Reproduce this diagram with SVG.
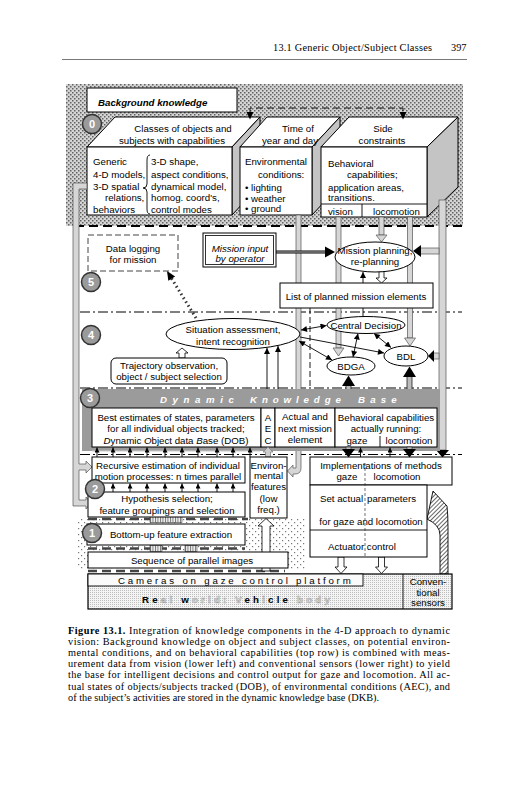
<svg xmlns="http://www.w3.org/2000/svg" width="527" height="800" viewBox="0 0 527 800">
<defs>
<pattern id="stip" width="4" height="4" patternUnits="userSpaceOnUse"><rect width="4" height="4" fill="#d4d4d4"/><rect x="0" y="0" width="1.5" height="1.5" fill="#626262"/><rect x="2" y="2" width="1.5" height="1.5" fill="#626262"/></pattern>
<pattern id="stip2" width="6" height="6" patternUnits="userSpaceOnUse"><rect width="6" height="6" fill="#fff"/><rect x="0" y="0" width="1.2" height="1.2" fill="#777"/><rect x="3" y="3" width="1.2" height="1.2" fill="#777"/></pattern>
<pattern id="fine" width="2" height="2" patternUnits="userSpaceOnUse"><rect width="2" height="2" fill="#f4f4f4"/><rect width="1" height="1" fill="#bdbdbd"/></pattern>
<pattern id="hatch" width="3" height="3" patternUnits="userSpaceOnUse" patternTransform="rotate(45)"><rect width="3" height="3" fill="#fff"/><line x1="0.5" y1="0" x2="0.5" y2="3" stroke="#555" stroke-width="0.9"/></pattern>
<pattern id="vh" width="2.5" height="4" patternUnits="userSpaceOnUse"><rect width="2.5" height="4" fill="#eee"/><line x1="0.5" y1="0" x2="0.5" y2="4" stroke="#555" stroke-width="0.8"/></pattern>
<marker id="ar" viewBox="0 0 10 10" refX="10" refY="5" markerWidth="7" markerHeight="6" markerUnits="userSpaceOnUse" orient="auto-start-reverse"><path d="M0,0L10,5L0,10z" fill="#000"/></marker>
<marker id="as" viewBox="0 0 10 10" refX="10" refY="5" markerWidth="6" markerHeight="5" markerUnits="userSpaceOnUse" orient="auto"><path d="M0,0L10,5L0,10z" fill="#000"/></marker>
</defs>
<style>
text{font-family:"Liberation Sans",Arial,sans-serif;font-size:9.7px;fill:#000}
.c{text-anchor:middle}
.box{fill:#fff;stroke:#000;stroke-width:1}
.side{fill:#c4c4c4;stroke:#000;stroke-width:1}
.bar{fill:#d6d6d6;stroke:#555;stroke-width:0.7}
.ha{fill:#fff;stroke:#000;stroke-width:0.8}
.ln{stroke:#000;stroke-width:0.9;fill:none}
.dd{stroke:#000;stroke-width:1;stroke-dasharray:10 3 2 3;fill:none}
.cap{font-family:"Liberation Serif","Times New Roman",serif;font-size:10.3px}
.num{font-weight:bold;font-size:11px;fill:#fff;text-anchor:middle}
.circ{fill:#9a9a9a;stroke:#333;stroke-width:1.5}
.lt{fill:#e2e2e2;stroke:#9a9a9a;stroke-width:0.5}
</style>
<rect width="527" height="800" fill="#fff"/>

<g id="header">
<text class="cap" x="273" y="51" font-size="10.8" textLength="159">13.1  Generic Object/Subject Classes</text>
<text class="cap" x="451" y="51" font-size="10.8">397</text>
<line x1="62" y1="59.5" x2="467" y2="59.5" stroke="#555" stroke-width="0.8"/>
</g>

<g id="backgrounds">
<rect x="66" y="84" width="397" height="142" fill="url(#stip)"/>
<rect x="77" y="518" width="228" height="52" fill="url(#stip2)"/>
</g>

<g id="background-knowledge">
<rect class="box" x="87" y="88" width="150" height="24" stroke-width="1.2"/>
<text x="98" y="105.5" font-size="12" font-weight="bold" font-style="italic">Background knowledge</text>
</g>

<g id="box-classes">
<polygon class="box" points="87,147 115,117 260,117 232,147"/>
<polygon class="side" points="232,147 260,117 260,185 232,215"/>
<rect class="box" x="87" y="147" width="145" height="68"/>
<text class="c" x="183" y="131.5">Classes of objects and</text>
<text class="c" x="172" y="143.5">subjects with capabilities</text>
<text x="93" y="165">Generic</text>
<text x="93" y="177.5">4-D models,</text>
<text x="93" y="189.5">3-D spatial</text>
<text x="105" y="201">relations,</text>
<text x="93" y="212.5">behaviors</text>
<path class="ln" stroke-width="0.8" d="M150,155 Q147,155 147,160 L147,184 Q147,188 143,188 Q147,188 147,192 L147,209 Q147,214 150,214"/>
<text x="151" y="165">3-D shape,</text>
<text x="151" y="177.5">aspect conditions,</text>
<text x="151" y="189.5">dynamical model,</text>
<text x="151" y="201">homog. coord's,</text>
<text x="151" y="212.5">control modes</text>
</g>

<g id="box-time">
<polygon class="box" points="240,147 267,117 340,117 312,147"/>
<polygon class="side" points="312,147 340,117 340,185 312,215"/>
<rect class="box" x="240" y="147" width="72" height="68"/>
<text class="c" x="298" y="131.5">Time of</text>
<text class="c" x="290" y="143.5">year and day</text>
<text x="245" y="165">Environmental</text>
<text x="258" y="178">conditions:</text>
<text x="245" y="191">• lighting</text>
<text x="245" y="202">• weather</text>
<text x="245" y="212">• ground</text>
</g>

<g id="box-side">
<polygon class="box" points="321,147 349,117 458,117 427,147"/>
<polygon class="side" points="427,147 458,117 458,187 427,217"/>
<rect class="box" x="321" y="147" width="106" height="70"/>
<text class="c" x="383" y="131.5">Side</text>
<text class="c" x="382" y="143.5">constraints</text>
<text x="328" y="167">Behavioral</text>
<text x="347" y="177.5">capabilities;</text>
<text x="328" y="190.5">application areas,</text>
<text x="328" y="201">transitions.</text>
<line class="ln" x1="321" y1="204" x2="427" y2="204"/>
<line class="ln" x1="362" y1="204" x2="362" y2="217"/>
<text x="328" y="214.5">vision</text>
<text x="373" y="214.5">locomotion</text>
</g>

<g id="connectors">
<path class="ln" stroke-width="1.3" stroke-dasharray="7 4" d="M250,113 L250,108 L403,108 L403,113"/>
<polygon points="246.5,112 253.5,112 250,119.5"/>
<polygon points="399.5,112 406.5,112 403,119.5"/>
<line x1="75" y1="226" x2="462" y2="226" stroke="#000" stroke-width="2" stroke-dasharray="9 5"/>
<line class="dd" x1="80" y1="312" x2="462" y2="312"/>
<line class="dd" x1="80" y1="388" x2="462" y2="388"/>
<line class="dd" x1="80" y1="454.5" x2="462" y2="454.5"/>
<path class="bar" d="M87,183 L73,183 L73,506 L86,506 L86,509 L91,503 L86,497 L86,500 L79,500 L79,470 L86,470 L86,473 L92,467 L86,461 L86,464 L79,464 L79,189 L87,189 Z"/>
<rect class="bar" x="439" y="200" width="7" height="250"/>
<polygon points="436,450 449,450 442.5,457.5"/>
<rect class="bar" x="419" y="248" width="20" height="6"/>
<polygon points="421,245 421,257 413,251"/>
<rect class="bar" x="432" y="353" width="7" height="6"/>
<polygon points="434,350 434,362 428,356"/>
<path class="bar" d="M296,215 L301,215 L301,468 Q301,474 295,474 L293,474 L293,477 L287.5,471 L293,465 L293,468 L296,468 Z"/>
<rect class="bar" x="336" y="217" width="5" height="131"/>
<polygon class="bar" points="333,348 344,348 338.5,356"/>
<rect class="bar" x="379" y="217" width="5" height="18"/>
<polygon class="bar" points="376,235 387,235 381.5,242"/>
<rect class="bar" x="407.5" y="217" width="5" height="121"/>
<polygon class="bar" points="404.5,338 415.5,338 410,346"/>
<line x1="276" y1="252" x2="327" y2="252" stroke="#000" stroke-width="3"/>
<line x1="276" y1="252" x2="327" y2="252" stroke="#fff" stroke-width="0.8"/>
<polygon points="325,246.5 325,257.5 335,252"/>
<line class="ln" x1="363" y1="317" x2="363" y2="272" marker-end="url(#ar)"/>
<polygon class="ha" points="379,271 379,278 376,278 381.5,283 387,278 384,278 384,271"/>
<line x1="196" y1="318" x2="170" y2="276" stroke="#333" stroke-width="3" stroke-dasharray="1.5 3"/>
<polygon points="167,271 175.1,276.6 168.3,280.8"/>
<line class="ln" x1="310" y1="308" x2="310" y2="407" stroke-dasharray="6 3" stroke-width="1.1" marker-end="url(#ar)"/>
<line class="ln" x1="301" y1="330" x2="326.5" y2="325.5" marker-start="url(#ar)" marker-end="url(#ar)"/>
<line class="ln" x1="300" y1="337" x2="384" y2="353" marker-end="url(#ar)"/>
<line class="ln" x1="299" y1="341" x2="332" y2="360" marker-start="url(#ar)" marker-end="url(#ar)"/>
<line class="ln" x1="358" y1="333.5" x2="353" y2="357" marker-start="url(#ar)" marker-end="url(#ar)"/>
<line class="ln" x1="374" y1="333.5" x2="391" y2="347.5" marker-start="url(#ar)" marker-end="url(#ar)"/>
<line class="ln" x1="267" y1="408" x2="267" y2="348" marker-end="url(#ar)"/>
<line class="ln" x1="278" y1="408" x2="278" y2="346" marker-end="url(#ar)"/>
<polygon class="ha" points="179,358 179,353 176,353 182,348 188,353 185,353 185,358"/>
<rect x="346" y="385" width="5" height="23" fill="#bbb" stroke="#222" stroke-width="0.8"/>
<polygon points="342,386 355,386 348.5,375.5"/>
<rect x="407" y="376" width="5" height="32" fill="#bbb" stroke="#222" stroke-width="0.8"/>
<polygon points="403,377 416,377 409.5,366.5"/>
</g>

<g id="node-data-logging">
<rect x="88" y="235" width="90" height="36" fill="#fff" stroke="#444" stroke-width="1" stroke-dasharray="6 3"/>
<text class="c" x="133" y="252">Data logging</text>
<text class="c" x="133" y="262.5">for mission</text>
</g>
<g id="node-mission-input">
<rect class="box" x="203" y="233" width="73" height="34" stroke-width="1.2"/>
<rect x="205.5" y="235.5" width="68" height="29" fill="none" stroke="#000" stroke-width="0.8"/>
<text class="c" x="240" y="251.5" font-style="italic">Mission input</text>
<text class="c" x="240" y="262" font-style="italic">by operator</text>
</g>
<g id="node-mission-planning">
<ellipse class="box" cx="375" cy="257" rx="40" ry="15"/>
<text class="c" x="375" y="253.5">Mission planning,</text>
<text class="c" x="375" y="265">re-planning</text>
</g>
<g id="node-list">
<rect class="box" x="280" y="283" width="153" height="25"/>
<text class="c" x="356" y="299.5">List of planned mission elements</text>
</g>
<g id="node-situation">
<ellipse class="box" cx="233" cy="334" rx="67" ry="15.5"/>
<text class="c" x="233" y="333">Situation assessment,</text>
<text class="c" x="233" y="344.5">intent recognition</text>
</g>
<g id="node-central-decision">
<ellipse class="box" cx="366" cy="325" rx="39" ry="8.5"/>
<text class="c" x="366" y="328.5">Central Decision</text>
</g>
<g id="node-bdga">
<ellipse class="box" cx="351" cy="366" rx="24" ry="9"/>
<text class="c" x="351" y="369.5">BDGA</text>
</g>
<g id="node-bdl">
<ellipse class="box" cx="406" cy="356" rx="22" ry="10"/>
<text class="c" x="406" y="359.5">BDL</text>
</g>
<g id="node-trajectory">
<rect class="box" x="111" y="358" width="116" height="26" rx="5"/>
<text class="c" x="169" y="368.5">Trajectory observation,</text>
<text class="c" x="169" y="380">object / subject selection</text>
</g>

<g id="node-dkb">
<rect x="82" y="389" width="358" height="62" fill="#9b9b9b"/>
<line x1="92" y1="451" x2="260" y2="451" stroke="#ccc" stroke-width="1"/>
<text x="160" y="403" font-size="11" font-weight="bold" font-style="italic" letter-spacing="5.6" style="fill:#fff">Dynamic</text>
<text x="250" y="403" font-size="11" font-weight="bold" font-style="italic" letter-spacing="4.9" style="fill:#fff">Knowledge</text>
<text x="358" y="403" font-size="11" font-weight="bold" font-style="italic" letter-spacing="5.2" style="fill:#fff">Base</text>
<rect class="box" x="92" y="408" width="169" height="39"/>
<text class="c" x="176" y="420.5">Best estimates of states, parameters</text>
<text class="c" x="176" y="432">for all individual objects tracked;</text>
<text class="c" x="176" y="443.5"><tspan font-style="italic">D</tspan>ynamic <tspan font-style="italic">O</tspan>bject data <tspan font-style="italic">B</tspan>ase (DOB)</text>
<rect class="box" x="261" y="408" width="14" height="39"/>
<text class="c" x="268" y="420.5">A</text>
<text class="c" x="268" y="432">E</text>
<text class="c" x="268" y="443.5">C</text>
<rect class="box" x="275" y="408" width="60" height="39"/>
<text class="c" x="305" y="420">Actual and</text>
<text class="c" x="305" y="431.5">next mission</text>
<text class="c" x="305" y="443">element</text>
<rect class="box" x="335" y="408" width="102" height="39"/>
<text class="c" x="386" y="420.5">Behavioral capabilities</text>
<text class="c" x="386" y="432">actually running:</text>
<line class="ln" x1="380" y1="436" x2="380" y2="447"/>
<text class="c" x="357" y="444">gaze</text>
<text class="c" x="409" y="444">locomotion</text>
</g>

<g id="connectors-lower">
<rect x="346" y="447" width="5" height="3" fill="#bbb" stroke="#222" stroke-width="0.6"/>
<polygon points="342,449 355,449 348.5,457.5"/>
<rect x="407" y="447" width="5" height="3" fill="#bbb" stroke="#222" stroke-width="0.6"/>
<polygon points="403,449 416,449 409.5,457.5"/>
<line class="ln" x1="360.5" y1="457" x2="360.5" y2="447.5" marker-end="url(#as)"/>
<line class="ln" x1="390" y1="457" x2="390" y2="447.5" marker-end="url(#as)"/>
<polygon points="265.5,457 265.5,452 263,452 268,447 273,452 270.5,452 270.5,457" fill="#ccc" stroke="#777" stroke-width="0.7"/>
<g class="ln">
<line x1="97" y1="457" x2="97" y2="447.5" marker-end="url(#as)"/>
<line x1="113" y1="457" x2="113" y2="447.5" marker-end="url(#as)"/>
<line x1="130" y1="457" x2="130" y2="447.5" marker-end="url(#as)"/>
<line x1="147" y1="457" x2="147" y2="447.5" marker-end="url(#as)"/>
<line x1="165" y1="457" x2="165" y2="447.5" marker-end="url(#as)"/>
<line x1="182" y1="457" x2="182" y2="447.5" marker-end="url(#as)"/>
<line x1="198" y1="457" x2="198" y2="447.5" marker-end="url(#as)"/>
<line x1="217" y1="457" x2="217" y2="447.5" marker-end="url(#as)"/>
<line x1="233" y1="457" x2="233" y2="447.5" marker-end="url(#as)"/>
<line x1="250" y1="457" x2="250" y2="447.5" marker-end="url(#as)"/>
<line x1="113" y1="492" x2="113" y2="483.5" marker-end="url(#as)"/>
<line x1="130" y1="492" x2="130" y2="483.5" marker-end="url(#as)"/>
<line x1="147" y1="492" x2="147" y2="483.5" marker-end="url(#as)"/>
<line x1="165" y1="492" x2="165" y2="483.5" marker-end="url(#as)"/>
<line x1="182" y1="492" x2="182" y2="483.5" marker-end="url(#as)"/>
<line x1="198" y1="492" x2="198" y2="483.5" marker-end="url(#as)"/>
<line x1="217" y1="492" x2="217" y2="483.5" marker-end="url(#as)"/>
<line x1="233" y1="492" x2="233" y2="483.5" marker-end="url(#as)"/>
</g>
<line x1="88" y1="519" x2="248" y2="519" stroke="#444" stroke-width="2.5" stroke-dasharray="9 5"/>
<rect x="150" y="515.5" width="32" height="7" fill="url(#vh)" stroke="#444" stroke-width="0.6"/>
<line x1="88" y1="548.5" x2="245" y2="548.5" stroke="#444" stroke-width="2.5" stroke-dasharray="9 5"/>
<rect x="150" y="545.5" width="12" height="6" fill="url(#vh)" stroke="#444" stroke-width="0.6"/>
<rect x="185" y="545.5" width="12" height="6" fill="url(#vh)" stroke="#444" stroke-width="0.6"/>
<line x1="88" y1="571" x2="285" y2="571" stroke="#444" stroke-width="2.5" stroke-dasharray="9 5"/>
<polygon class="ha" points="262,571 262,526 258,526 266,518.5 274,526 270,526 270,571"/>
<polygon class="ha" points="338,557 338,567 335,567 341,573.5 347,567 344,567 344,557"/>
<polygon class="ha" points="378.5,557 378.5,567 375.5,567 381.5,573.5 387.5,567 384.5,567 384.5,557"/>
<path d="M440,574 L440,535 Q440,525 427,519 L433,491 L447,506 Q448,515 448,528 L448,574 Z" fill="url(#hatch)" stroke="#000" stroke-width="0.9"/>
</g>

<g id="node-recursive">
<rect class="box" x="92" y="457" width="153" height="26"/>
<text class="c" x="168" y="468.5">Recursive estimation of individual</text>
<text class="c" x="168" y="479.5">motion processes: n times parallel</text>
</g>
<g id="node-hypothesis">
<rect class="box" x="88" y="492" width="157" height="25"/>
<text class="c" x="167" y="502">Hypothesis selection;</text>
<text class="c" x="167" y="514">feature groupings and selection</text>
</g>
<g id="node-environmental">
<rect class="box" x="250" y="457" width="37" height="61"/>
<text class="c" x="268.5" y="468.5" font-size="9.4">Environ-</text>
<text class="c" x="268.5" y="479" font-size="9.4">mental</text>
<text class="c" x="268.5" y="490" font-size="9.4">features</text>
<text class="c" x="268.5" y="501.5" font-size="9.4">(low</text>
<text class="c" x="268.5" y="512.5" font-size="9.4">freq.)</text>
</g>
<g id="node-implementations">
<rect class="box" x="310" y="457" width="142" height="28"/>
<text class="c" x="381" y="468.5">Implementations of methods</text>
<text class="c" x="347" y="479.5">gaze</text>
<text class="c" x="397" y="479.5">locomotion</text>
</g>
<g id="node-actuators">
<rect class="box" x="310" y="485" width="117" height="72"/>
<line class="ln" x1="310" y1="530" x2="427" y2="530"/>
<text x="320" y="501.5">Set actual</text>
<text x="367" y="501.5">parameters</text>
<text class="c" x="371" y="525">for gaze and locomotion</text>
<text class="c" x="362" y="550">Actuator  control</text>
<line x1="365" y1="463" x2="365" y2="557" stroke="#333" stroke-width="0.7" stroke-dasharray="3 2"/>
</g>
<g id="node-bottom-up">
<rect class="box" x="87" y="524" width="158" height="21"/>
<text class="c" x="171" y="538">Bottom-up feature extraction</text>
</g>
<g id="node-sequence">
<rect class="box" x="88" y="552" width="200" height="16"/>
<text class="c" x="192" y="564">Sequence of parallel images</text>
</g>
<g id="node-real-world">
<rect x="88" y="574" width="364" height="35" fill="url(#fine)" stroke="#000" stroke-width="1.2"/>
<rect x="88" y="574" width="275" height="12" fill="#fafafa" stroke="#000" stroke-width="0.9"/>
<text x="118" y="584" font-size="9.5" letter-spacing="2.8">Cameras on gaze control platform</text>
<text x="142" y="603" font-size="12.5" font-weight="bold" letter-spacing="3.2">Re<tspan class="lt">al</tspan> w<tspan class="lt">orld: V</tspan>eh<tspan class="lt">i</tspan>cle <tspan class="lt">body</tspan></text>
<line class="ln" x1="403" y1="574" x2="403" y2="609"/>
<text class="c" x="428" y="585">Conven-</text>
<text class="c" x="428" y="596">tional</text>
<text class="c" x="428" y="606">sensors</text>
</g>

<g id="levels">
<circle class="circ" cx="92" cy="124" r="9.5"/><text class="num" x="92" y="128">0</text>
<circle class="circ" cx="91" cy="282" r="9.5"/><text class="num" x="91" y="286">5</text>
<circle class="circ" cx="91" cy="335" r="9.5"/><text class="num" x="91" y="339">4</text>
<circle class="circ" cx="90" cy="398" r="9.5"/><text class="num" x="90" y="402">3</text>
<circle class="circ" cx="95" cy="489" r="9.5"/><text class="num" x="95" y="493">2</text>
<circle class="circ" cx="92" cy="533" r="9.5"/><text class="num" x="92" y="537">1</text>
</g>

<g id="caption">
<text class="cap" x="68" y="634" textLength="382" lengthAdjust="spacing"><tspan font-weight="bold">Figure 13.1.</tspan> Integration of knowledge components in the 4-D approach to dynamic</text>
<text class="cap" x="68" y="645" textLength="382" lengthAdjust="spacing">vision: Background knowledge on object and subject classes, on potential environ-</text>
<text class="cap" x="68" y="656" textLength="382" lengthAdjust="spacing">mental conditions, and on behavioral capabilities (top row) is combined with meas-</text>
<text class="cap" x="68" y="667" textLength="382" lengthAdjust="spacing">urement data from vision (lower left) and conventional sensors (lower right) to yield</text>
<text class="cap" x="68" y="678" textLength="382" lengthAdjust="spacing">the base for intelligent decisions and control output for gaze and locomotion. All ac-</text>
<text class="cap" x="68" y="689.5" textLength="382" lengthAdjust="spacing">tual states of objects/subjects tracked (DOB), of environmental conditions (AEC), and</text>
<text class="cap" x="68" y="700.5">of the subject’s activities are stored in the dynamic knowledge base (DKB).</text>
</g>
</svg>
